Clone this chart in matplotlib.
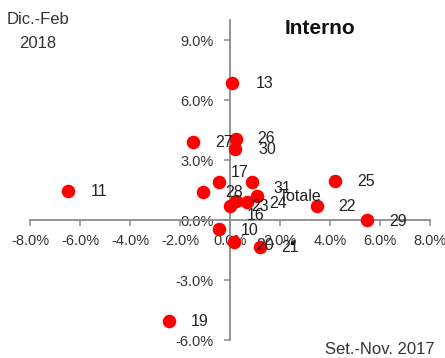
import matplotlib
matplotlib.use("Agg")
import matplotlib.pyplot as plt
from matplotlib.ticker import FuncFormatter
from matplotlib import font_manager

# ---- data ----
labels = ["13", "27", "26", "30", "11", "28", "17", "31", "Totale", "23",
          "24", "16", "10", "20", "21", "25", "22", "29", "19"]
x_vals = [0.07, -1.46, 0.23, 0.20, -6.47, -1.07, -0.44, 0.90, 1.07, -0.01,
          0.69, 0.23, -0.44, 0.16, 1.19, 4.20, 3.47, 5.50, -2.45]
y_vals = [6.83, 3.88, 4.03, 3.55, 1.47, 1.42, 1.92, 1.92, 1.22, 0.72,
          0.88, 0.95, -0.47, -1.08, -1.33, 1.97, 0.72, 0.00, -5.05]
extra_x = [2.50]
extra_y = [-1.17]
x_ticks = [-8, -6, -4, -2, 0, 2, 4, 6, 8]
y_ticks = [-6, -3, 0, 3, 6, 9]

# label offsets in pixels (style)
default_off = (22, -1)
special_off = {"17": (12, 9), "31": (21, -7), "16": (11, -15), "20": (22, -4),
               "13": (24, 0), "27": (22, 0), "26": (22, 1), "30": (23, 0)}

avail = {f.name for f in font_manager.fontManager.ttflist}
fam = "Liberation Sans Narrow" if "Liberation Sans Narrow" in avail else "Liberation Sans"
plt.rcParams["font.family"] = [fam, "DejaVu Sans"]

fig = plt.figure(figsize=(4.45, 3.58), dpi=100)
ax = fig.add_axes([30 / 445, 1 - 340 / 358, 400 / 445, 320 / 358])
ax.set_xlim(-8, 8)
ax.set_ylim(-6, 10)

axis_col = "#8c8c8c"
for s in ["top", "right"]:
    ax.spines[s].set_visible(False)
ax.spines["left"].set_position(("data", 0))
ax.spines["bottom"].set_position(("data", 0))
ax.spines["left"].set_color(axis_col)
ax.spines["bottom"].set_color(axis_col)
ax.spines["left"].set_linewidth(1.3)
ax.spines["bottom"].set_linewidth(1.3)

ax.set_xticks(x_ticks)
ax.set_yticks(y_ticks)
fmt = FuncFormatter(lambda v, p: f"{v:.1f}%")
ax.xaxis.set_major_formatter(fmt)
ax.yaxis.set_major_formatter(fmt)
ax.tick_params(axis="both", direction="out", length=4, width=1.1, color=axis_col,
               labelsize=10.5, labelcolor="#333333")
ax.tick_params(axis="x", pad=6)
ax.tick_params(axis="y", pad=8)

ax.scatter(x_vals, y_vals, s=95, color="#ff0000", zorder=3, linewidths=0)
ax.scatter(extra_x, extra_y, s=6, color="black", zorder=3, linewidths=0)

for lab, xv, yv in zip(labels, x_vals, y_vals):
    off = special_off.get(lab, default_off)
    ax.annotate(lab, (xv, yv), xytext=off, textcoords="offset pixels",
                ha="left", va="center", fontsize=11.5, color="#222222", zorder=4)

fig.text(38 / 445, 1 - 20 / 358, "Dic.-Feb", ha="center", va="center",
         fontsize=12, color="#333333")
fig.text(38 / 445, 1 - 43 / 358, "2018", ha="center", va="center",
         fontsize=12, color="#333333")
fig.text(320 / 445, 1 - 28 / 358, "Interno", ha="center", va="center",
         fontsize=15, fontweight="bold", color="#111111")
fig.text(380 / 445, 1 - 350 / 358, "Set.-Nov. 2017", ha="center", va="center",
         fontsize=12, color="#333333")

fig.savefig("out.png", dpi=100)
